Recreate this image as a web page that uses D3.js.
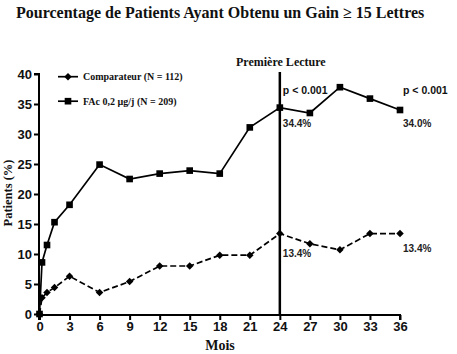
<!DOCTYPE html>
<html><head><meta charset="utf-8">
<script src="https://cdn.jsdelivr.net/npm/d3@7"></script>
<style>body{margin:0;background:#fff}svg{display:block}</style>
</head><body>
<svg id="c" width="457" height="354"></svg>
<script>
const months = [0, 0.25, 0.75, 1.5, 3, 6, 9, 12, 15, 18, 21, 24, 27, 30, 33, 36];
const comparateur = [0, 2.7, 3.6, 4.4, 6.3, 3.6, 5.4, 8.0, 8.0, 9.8, 9.8, 13.4, 11.7, 10.7, 13.4, 13.4];
const fac = [0, 8.6, 11.5, 15.3, 18.2, 24.9, 22.5, 23.4, 23.9, 23.4, 31.1, 34.4, 33.5, 37.8, 35.9, 34.0];
const xTicks = [0, 3, 6, 9, 12, 15, 18, 21, 24, 27, 30, 33, 36];
const yTicks = [0, 5, 10, 15, 20, 25, 30, 35, 40];
const seriesNames = ["Comparateur (N = 112)", "FAc 0,2 \u00b5g/j (N = 209)"];
const firstReading = 24;
const annotations = [
  {m: 24, v: 34.4, dy: 19, text: "34.4%"}, {m: 36, v: 34.0, dy: 17, text: "34.0%"},
  {m: 24, v: 13.4, dy: 23, text: "13.4%"}, {m: 36, v: 13.4, dy: 18, text: "13.4%"}
];
const pLabels = [{m: 24, text: "p < 0.001"}, {m: 36, text: "p < 0.001"}];

const svg = d3.select("#c");
const x = d3.scaleLinear().domain([0, 36]).range([39.5, 400]);
const y = d3.scaleLinear().domain([0, 40]).range([314, 74]);
const serif = "'Liberation Serif','Times New Roman',serif";
const sans = "'Liberation Sans',Arial,sans-serif";

svg.append("text").attr("x", 16).attr("y", 18).attr("font-family", serif)
  .attr("font-weight", "bold").attr("font-size", 16).attr("fill", "#111")
  .text("Pourcentage de Patients Ayant Obtenu un Gain \u2265 15 Lettres");

// axes
const yAxis = svg.append("g").attr("transform", "translate(39,0)")
  .call(d3.axisLeft(y).tickValues(yTicks).tickSize(5).tickPadding(2).tickFormat(d3.format("d")));
const xAxis = svg.append("g").attr("transform", "translate(0,315)")
  .call(d3.axisBottom(x).tickValues(xTicks).tickSize(5).tickPadding(2).tickFormat(d3.format("d")));
[yAxis, xAxis].forEach(g => {
  g.select(".domain").attr("stroke", "#000").attr("stroke-width", 2);
  g.selectAll(".tick line").attr("stroke", "#000").attr("stroke-width", 2);
  g.selectAll(".tick text").attr("font-family", sans).attr("font-weight", "bold")
    .attr("font-size", 13).attr("fill", "#111");
});
yAxis.select(".domain").attr("d", `M-5,${y(40)}H0V${y(0)+1}`);
xAxis.select(".domain").attr("d", `M${x(0)-0.5},5V0H${x(36)}V5`);

svg.append("text").attr("transform", `translate(12,193) rotate(-90)`)
  .attr("text-anchor", "middle").attr("font-family", serif).attr("font-weight", "bold")
  .attr("font-size", 12.5).attr("fill", "#111").text("Patients (%)");
svg.append("text").attr("x", 220).attr("y", 350).attr("text-anchor", "middle")
  .attr("font-family", serif).attr("font-weight", "bold").attr("font-size", 14)
  .attr("fill", "#111").text("Mois");

// first reading line
svg.append("line").attr("x1", x(firstReading)).attr("x2", x(firstReading))
  .attr("y1", 72).attr("y2", y(0)).attr("stroke", "#000").attr("stroke-width", 2.5);
svg.append("text").attr("x", x(firstReading)+1).attr("y", 66).attr("text-anchor", "middle")
  .attr("font-family", serif).attr("font-weight", "bold").attr("font-size", 12)
  .attr("fill", "#111").text("Premi\u00e8re Lecture");

const line = d3.line().x((d, i) => x(months[i])).y(d => y(d));
svg.append("path").datum(comparateur).attr("d", line).attr("fill", "none")
  .attr("stroke", "#000").attr("stroke-width", 1.7).attr("stroke-dasharray", "6,3");
svg.append("path").datum(fac).attr("d", line).attr("fill", "none")
  .attr("stroke", "#000").attr("stroke-width", 1.7);

const diamond = d3.symbol().type(d3.symbolSquare).size(28);
svg.selectAll(".dm").data(comparateur).join("path")
  .attr("d", diamond).attr("fill", "#000")
  .attr("transform", (d, i) => `translate(${x(months[i])},${y(d)}) rotate(45)`);
const sq = d3.symbol().type(d3.symbolSquare).size(44);
svg.selectAll(".sq").data(fac).join("path")
  .attr("d", sq).attr("fill", "#000")
  .attr("transform", (d, i) => `translate(${x(months[i])},${y(d)})`);

// legend
const lg = svg.append("g");
[0, 1].forEach(i => {
  const ly = 76.7 + i * 24.5;
  lg.append("line").attr("x1", 58).attr("x2", 78).attr("y1", ly).attr("y2", ly)
    .attr("stroke", "#000").attr("stroke-width", 1.7);
  lg.append("path").attr("d", i === 0 ? diamond : sq).attr("fill", "#000")
    .attr("transform", `translate(68,${ly})` + (i === 0 ? " rotate(45)" : ""));
  lg.append("text").attr("x", 83).attr("y", ly + 3.5).attr("font-family", serif)
    .attr("font-weight", "bold").attr("font-size", 10).attr("fill", "#111").text(seriesNames[i]);
});

svg.selectAll(".ann").data(annotations).join("text")
  .attr("x", d => x(d.m) + 3).attr("y", d => y(d.v) + d.dy)
  .attr("font-family", sans).attr("font-weight", "bold").attr("font-size", 10)
  .attr("fill", "#222").text(d => d.text);
svg.selectAll(".pl").data(pLabels).join("text")
  .attr("x", d => x(d.m) + 3).attr("y", 94)
  .attr("font-family", sans).attr("font-weight", "bold").attr("font-size", 10.5)
  .attr("fill", "#111").text(d => d.text);
</script>
</body></html>
